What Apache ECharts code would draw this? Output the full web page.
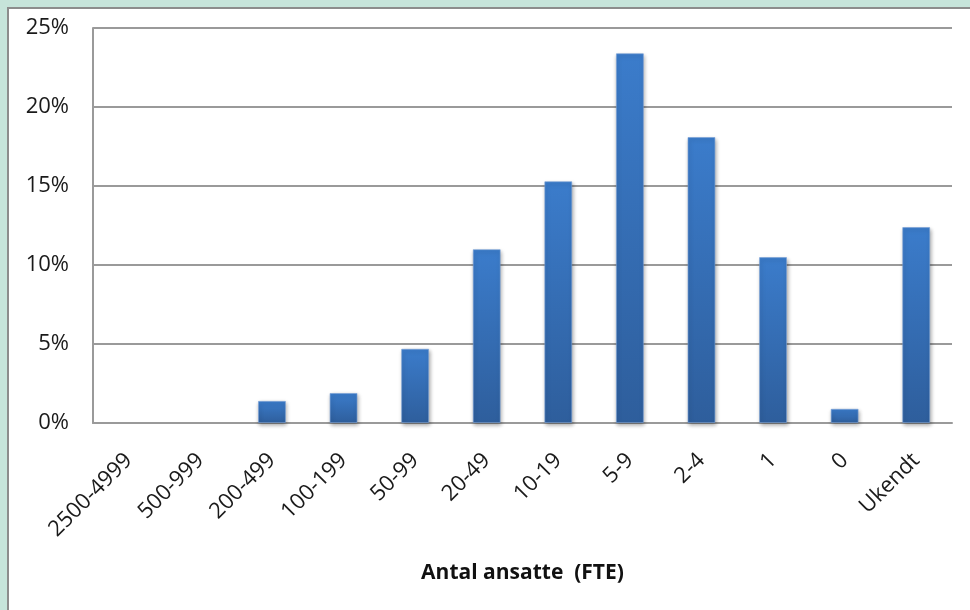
<!DOCTYPE html>
<html>
<head>
<meta charset="utf-8">
<script src="https://cdn.jsdelivr.net/npm/echarts@6/dist/echarts.min.js"></script>
<style>
  html, body { margin: 0; padding: 0; }
  body { width: 970px; height: 610px; background: #c6e4da; position: relative; overflow: hidden; }
  #frame { position: absolute; left: 7px; top: 7px; width: 963px; height: 603px;
           border-left: 2px solid #8c8c8c; border-top: 2px solid #8c8c8c; background: #ffffff; }
  #chart { width: 961px; height: 601px; }
</style>
</head>
<body>
<div id="frame"><div id="chart"></div></div>
<script>
// Share of companies by number of employees (FTE)
const categories = ['2500-4999', '500-999', '200-499', '100-199', '50-99', '20-49',
                    '10-19', '5-9', '2-4', '1', '0', 'Ukendt'];
const shares = [0, 0, 1.4, 1.9, 4.7, 11.0, 15.3, 23.4, 18.1, 10.5, 0.9, 12.4];
const yTicks = [0, 5, 10, 15, 20, 25];
const xTitle = 'Antal ansatte  (FTE)';

const font = '"Open Sans", "Liberation Sans", sans-serif';
const chart = echarts.init(document.getElementById('chart'));

// Empty categories get no visible bar (no border or shadow sliver)
const barData = shares.map(v => v === 0
  ? { value: v, itemStyle: { opacity: 0 } }
  : v);

chart.setOption({
  animation: false,
  grid: { left: 84, top: 19, right: 18, bottom: 187, containLabel: false },
  xAxis: {
    type: 'category',
    data: categories,
    name: xTitle,
    nameLocation: 'middle',
    nameGap: 140,
    nameTextStyle: { fontFamily: font, fontSize: 21, fontWeight: 'bold', color: '#111' },
    axisLine: { show: true, lineStyle: { color: '#9a9a9a', width: 2 } },
    axisTick: { show: false },
    axisLabel: { rotate: 45, margin: 34, fontFamily: font, fontSize: 22, color: '#1a1a1a', interval: 0 }
  },
  yAxis: {
    type: 'value',
    min: yTicks[0],
    max: yTicks[yTicks.length - 1],
    interval: 5,
    axisLine: { show: true, lineStyle: { color: '#9a9a9a', width: 2 } },
    axisTick: { show: false },
    axisLabel: { margin: 24, fontFamily: font, fontSize: 22, color: '#1a1a1a', formatter: v => v + '%' },
    splitLine: { show: true, lineStyle: { color: '#9a9a9a', width: 2 } }
  },
  series: [{
    type: 'bar',
    data: barData,
    barWidth: '39%',
    itemStyle: {
      color: new echarts.graphic.LinearGradient(0, 0, 0, 1, [
        { offset: 0, color: '#3b7ccb' },
        { offset: 1, color: '#2e5e9c' }
      ]),
      borderColor: 'rgba(120,160,215,0.6)',
      borderWidth: 1,
      shadowColor: 'rgba(0,0,0,0.35)',
      shadowBlur: 4,
      shadowOffsetX: 1,
      shadowOffsetY: 2
    }
  }]
});
</script>
</body>
</html>
